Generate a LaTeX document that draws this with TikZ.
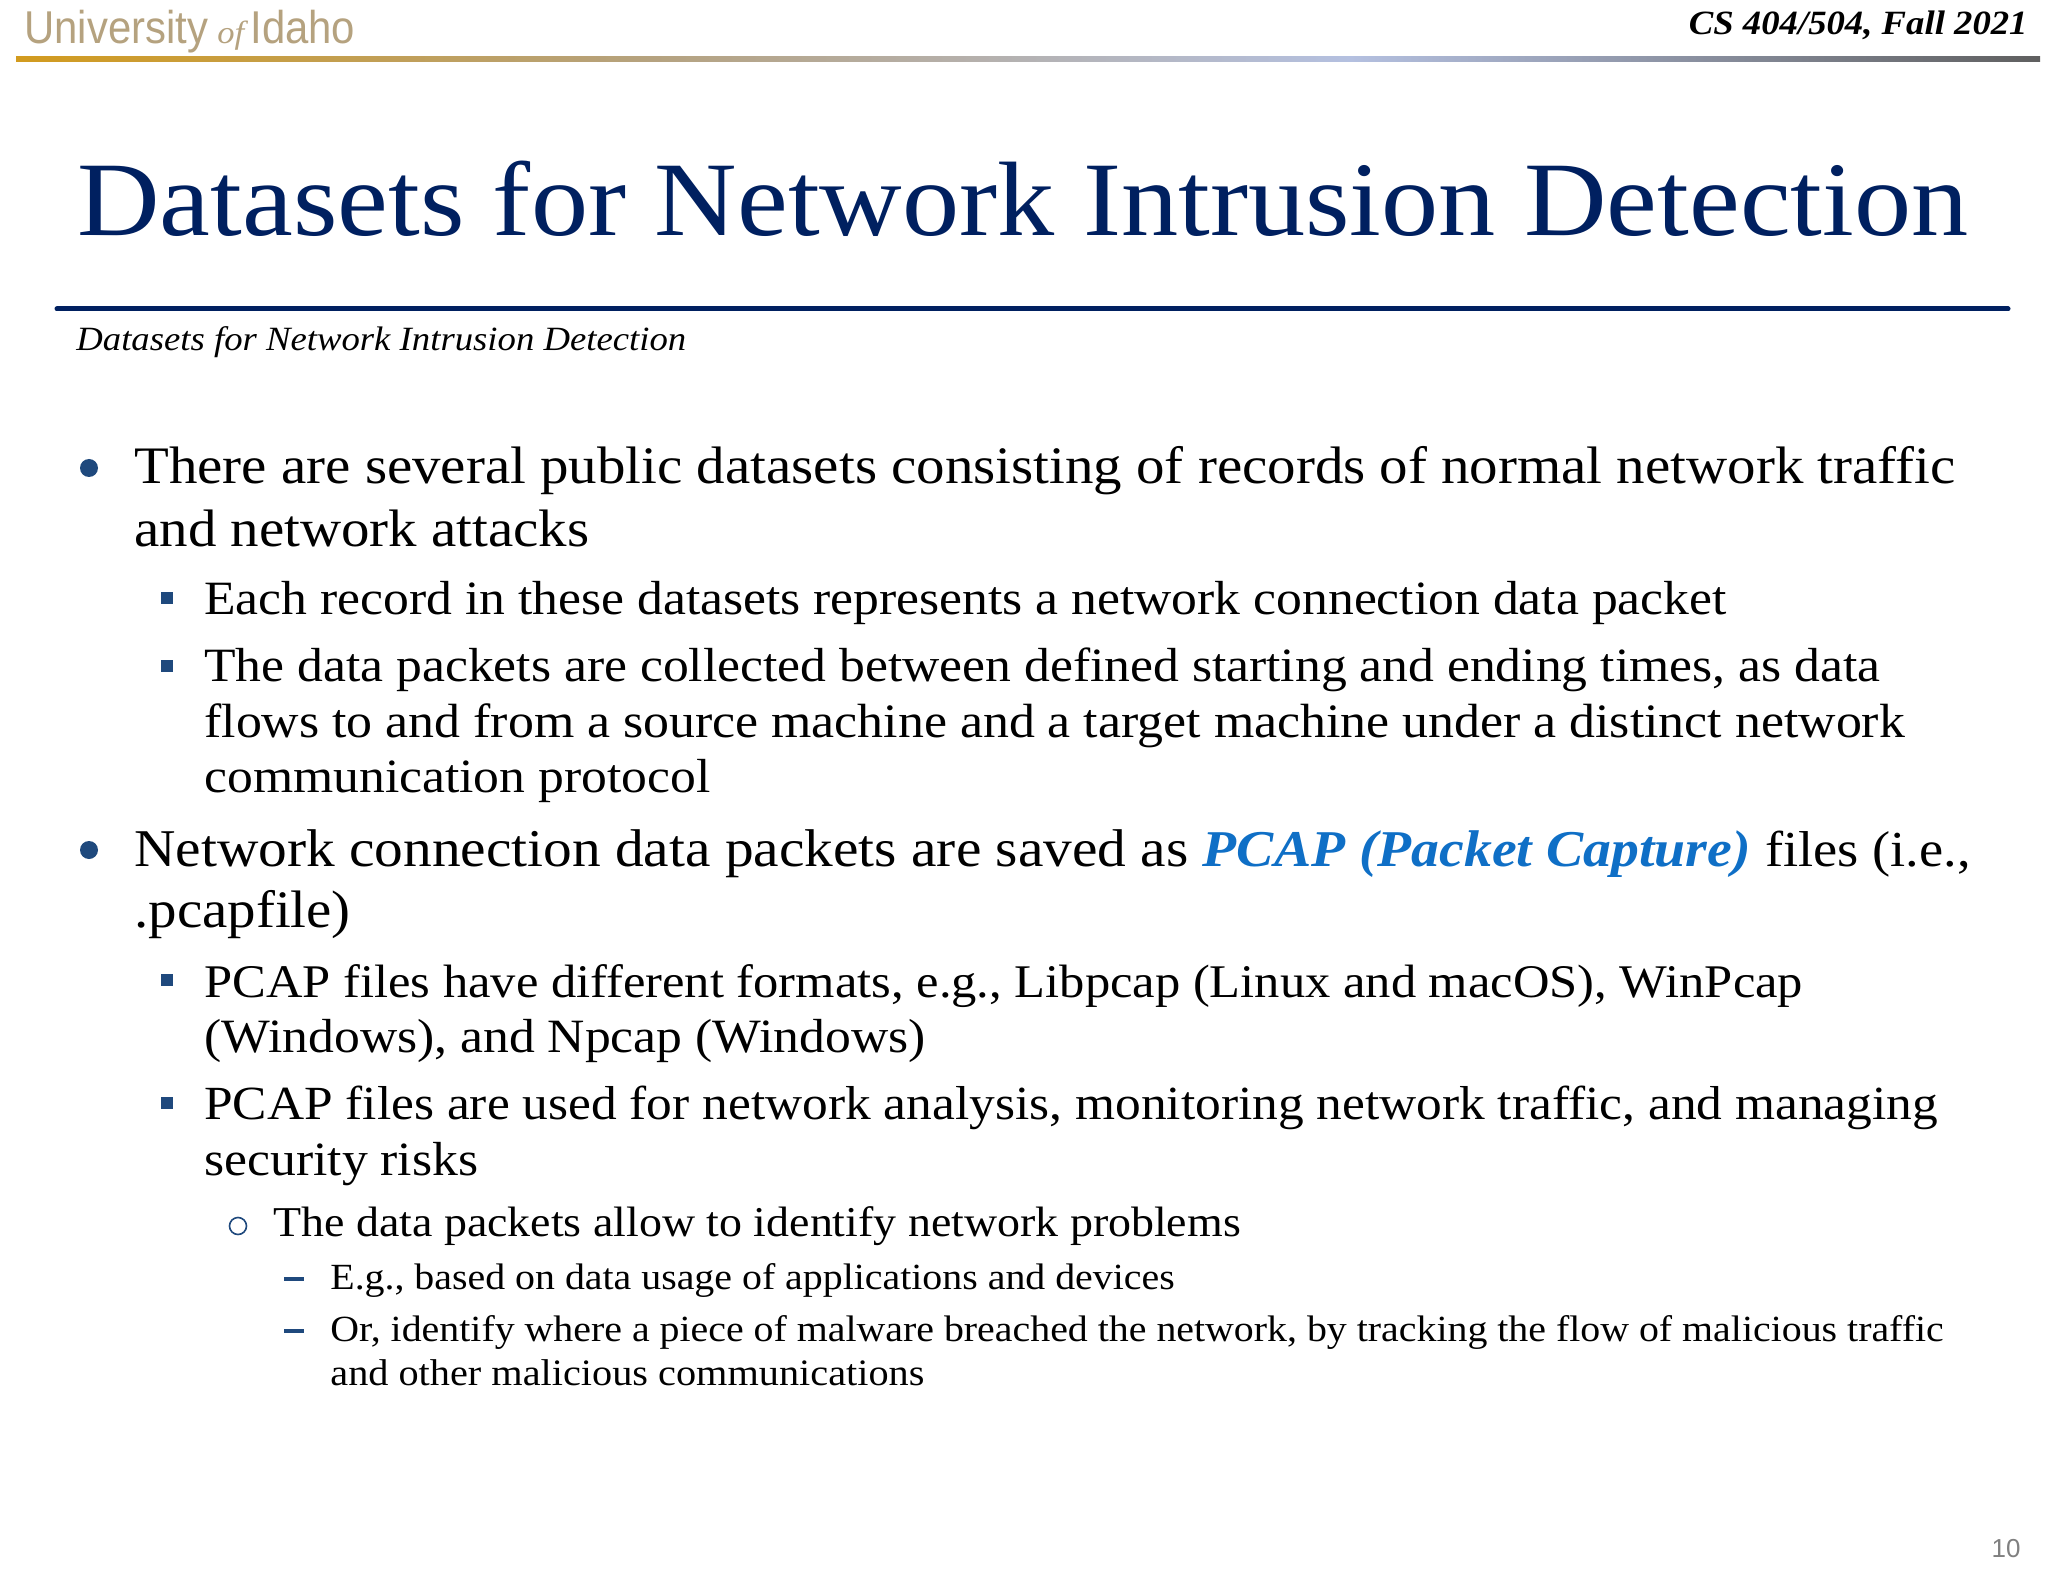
\documentclass[tikz,border=0pt]{standalone}
\usepackage{xcolor}
\usepackage{fontspec}
\setmainfont[FakeStretch=1.08]{Liberation Serif}
\setsansfont{Liberation Sans}
\definecolor{titleblue}{HTML}{002060}
\definecolor{bulletblue}{HTML}{1F497D}
\definecolor{pcapblue}{HTML}{0F6FC6}
\definecolor{idahotan}{HTML}{B5A27F}
\definecolor{rulegold}{HTML}{D29B1E}
\definecolor{ruleblue}{HTML}{B4C0E0}
\definecolor{rulegrey}{HTML}{5F5F5F}
\begin{document}
\begin{tikzpicture}[x=0.5pt, y=-0.5pt]

% Define styles for the nodes
\tikzstyle{textline} = [inner sep=0pt, anchor=base west, text=black]
\tikzstyle{levelone} = [textline, font=\fontsize{26.35}{30}\selectfont]
\tikzstyle{leveltwo} = [textline, font=\fontsize{23.9}{27}\selectfont]
\tikzstyle{levelthree} = [textline, font=\fontsize{21.25}{25}\selectfont]
\tikzstyle{levelfour} = [textline, font=\fontsize{18.45}{22}\selectfont]
\tikzstyle{logotext} = [textline, font=\sffamily\fontsize{23}{28}\selectfont, text=idahotan]
\tikzstyle{dotmark} = [circle, fill=bulletblue, inner sep=0pt, minimum size=9pt]
\tikzstyle{squaremark} = [rectangle, fill=bulletblue, inner sep=0pt, minimum size=6pt]
\tikzstyle{ringmark} = [circle, draw=bulletblue, line width=0.8pt, inner sep=0pt, minimum size=8.5pt]
\tikzstyle{dashmark} = [rectangle, fill=bulletblue, inner sep=0pt, minimum width=10pt, minimum height=1.7pt]

\useasboundingbox (0,0) rectangle (2048,1582);
\fill[white] (0,0) rectangle (2048,1582);

% Header
\node (univ) [logotext] at (24,44) {\scalebox{0.91}[1]{University}};
\node (of) [textline, font=\itshape\fontsize{16}{18}\selectfont, text=idahotan] at (217,44) {of};
\node (idaho) [logotext] at (250,44) {\scalebox{0.91}[1]{Idaho}};
\node (course) [textline, anchor=base east, font=\bfseries\itshape\fontsize{17}{20}\selectfont] at (2028,35) {CS 404/504, Fall 2021};
\shade[left color=rulegold, right color=idahotan] (16,57) rectangle (650,62);
\shade[left color=idahotan, right color=ruleblue] (650,57) rectangle (1350,62);
\shade[left color=ruleblue, right color=rulegrey] (1350,57) rectangle (2040,62);

% Title
\node (title) [textline, font=\fontsize{52.9}{60}\selectfont, text=titleblue] at (77,236) {Datasets for Network Intrusion Detection};
\draw[titleblue, line width=2.5pt, line cap=round] (57,309) -- (2008,309);
\node (subtitle) [textline, font=\itshape\fontsize{17}{22}\selectfont] at (76,351) {Datasets for Network Intrusion Detection};

% Bullets
\node (b1) [dotmark] at (89,468) {};
\node (b2) [squaremark] at (167,598) {};
\node (b3) [squaremark] at (167,666) {};
\node (b4) [dotmark] at (89,850) {};
\node (b5) [squaremark] at (167,980) {};
\node (b6) [squaremark] at (167,1103) {};
\node (b7) [ringmark] at (238,1226) {};
\node (b8) [dashmark] at (294,1279) {};
\node (b9) [dashmark] at (294,1331) {};

% Text lines
\node (l1) [levelone] at (134,484) {There are several public datasets consisting of records of normal network traffic};
\node (l2) [levelone] at (134,546) {and network attacks};
\node (l3) [leveltwo] at (204,614) {Each record in these datasets represents a network connection data packet};
\node (l4) [leveltwo] at (204,681) {The data packets are collected between defined starting and ending times, as data};
\node (l5) [leveltwo, font=\fontsize{24}{27}\selectfont] at (204,737) {flows to and from a source machine and a target machine under a distinct network};
\node (l6) [leveltwo] at (204,792) {communication protocol};
\node (l7) [levelone, font=\fontsize{26.55}{30}\selectfont] at (134,866) {Network connection data packets are saved as \textcolor{pcapblue}{\fontsize{25.8}{30}\selectfont\bfseries\itshape PCAP (Packet Capture)} {\fontsize{25.2}{30}\selectfont files (i.e.,}};
\node (l8) [levelone] at (134,927) {.pcapfile)};
\node (l9) [leveltwo, font=\fontsize{23.4}{27}\selectfont] at (204,997) {PCAP files have different formats, e.g., Libpcap (Linux and macOS), WinPcap};
\node (l10) [leveltwo] at (204,1052) {(Windows), and Npcap (Windows)};
\node (l11) [leveltwo, font=\fontsize{23.8}{27}\selectfont] at (204,1119) {PCAP files are used for network analysis, monitoring network traffic, and managing};
\node (l12) [leveltwo] at (204,1175) {security risks};
\node (l13) [levelthree] at (273,1236) {The data packets allow to identify network problems};
\node (l14) [levelfour] at (330,1289) {E.g., based on data usage of applications and devices};
\node (l15) [levelfour] at (330,1341) {Or, identify where a piece of malware breached the network, by tracking the flow of malicious traffic};
\node (l16) [levelfour, font=\fontsize{18.65}{22}\selectfont] at (330,1385) {and other malicious communications};

% Page number
\node (page) [textline, anchor=base east, font=\sffamily\fontsize{13}{16}\selectfont, text=black!50] at (2021,1557) {10};

\end{tikzpicture}
\end{document}
